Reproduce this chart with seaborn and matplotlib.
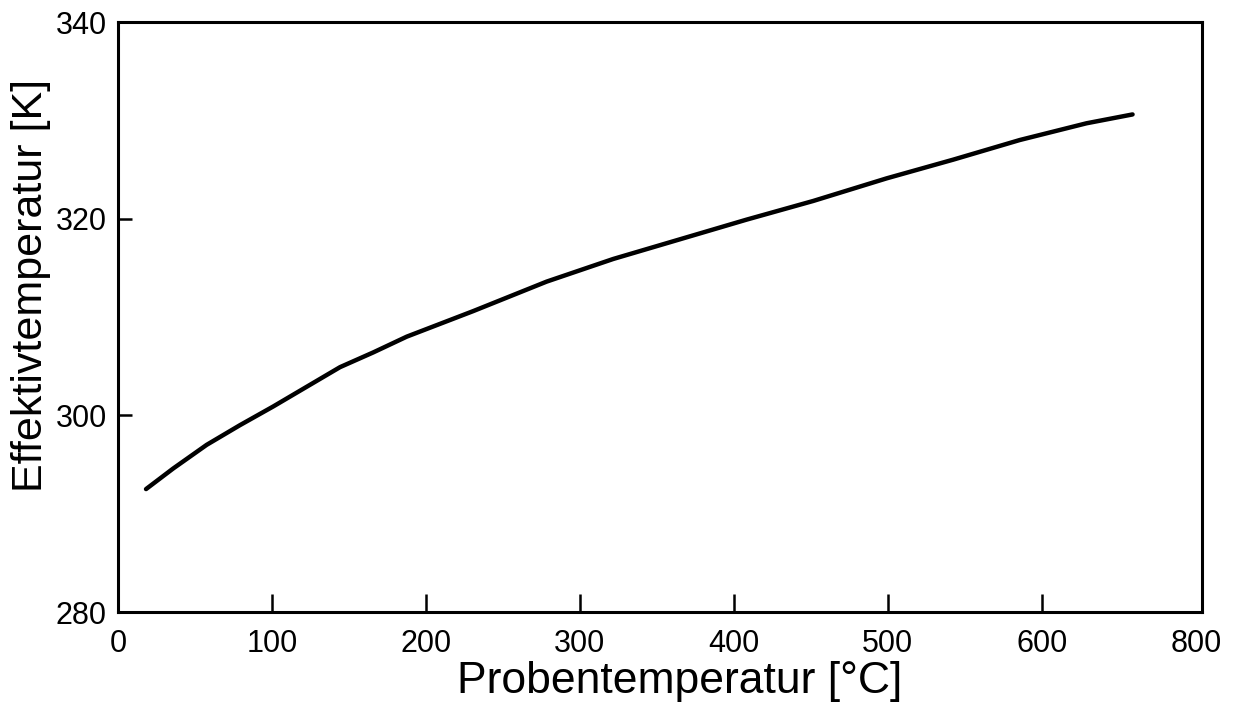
import matplotlib
matplotlib.use("Agg")
import matplotlib.pyplot as plt
import seaborn as sns
import pandas as pd

# Data
probentemperatur = [18.2, 35.9, 57.6, 79.2, 100.8, 122.5, 144.2, 165.8, 187.5, 209.1, 230.7,
                    278.4, 321.6, 364.9, 408.2, 451.5, 499.2, 542.4, 585.7, 629.0, 658.9]
effektivtemperatur = [292.5, 294.6, 297.0, 299.0, 300.9, 302.9, 304.9, 306.4, 308.0, 309.3, 310.6,
                      313.6, 315.9, 317.9, 319.9, 321.8, 324.1, 326.0, 328.0, 329.7, 330.6]
x_tick_pos = [0, 100, 200, 300, 400, 500, 600, 700]
x_tick_labels = ["0", "100", "200", "300", "400", "500", "600", "800"]
y_tick_pos = [280, 300, 320, 340]
y_tick_labels = ["280", "300", "320", "340"]

df = pd.DataFrame({"x": probentemperatur, "y": effektivtemperatur})

sns.set_theme(style="white")
plt.rcParams["font.family"] = ["Liberation Sans", "DejaVu Sans"]

fig = plt.figure(figsize=(12.35, 7.23), dpi=100)
ax = fig.add_axes([118 / 1235, 1 - 612 / 723, (1202 - 118) / 1235, (612 - 22) / 723])

sns.lineplot(data=df, x="x", y="y", ax=ax, color="black", linewidth=3.2,
             solid_capstyle="round", solid_joinstyle="round", sort=False)

ax.set_xlim(0, 704)
ax.set_ylim(280, 340)
ax.set_xticks(x_tick_pos)
ax.set_xticklabels(x_tick_labels)
ax.set_yticks(y_tick_pos)
ax.set_yticklabels(y_tick_labels)

ax.tick_params(axis="x", bottom=True, direction="in", length=13, width=1.8, labelsize=22,
               pad=12, color="black", labelcolor="black")
ax.tick_params(axis="y", left=True, direction="in", length=10, width=1.8, labelsize=22,
               pad=8, color="black", labelcolor="black")
xt = ax.xaxis.get_major_ticks()
xt[0].tick1line.set_visible(False)
xt[-1].tick1line.set_visible(False)
yt = ax.yaxis.get_major_ticks()
yt[0].tick1line.set_visible(False)
yt[-1].tick1line.set_visible(False)

for s in ax.spines.values():
    s.set_visible(True)
    s.set_color("black")
    s.set_linewidth(2.2)

ax.set_xlabel("Probentemperatur [°C]", fontsize=32, color="black")
ax.set_ylabel("Effektivtemperatur [K]", fontsize=31, color="black")
ax.xaxis.set_label_coords(0.518, -0.083)
ax.yaxis.set_label_coords(-0.062, 0.554)

ax.grid(False)
fig.savefig("out.png", dpi=100, facecolor="white")
